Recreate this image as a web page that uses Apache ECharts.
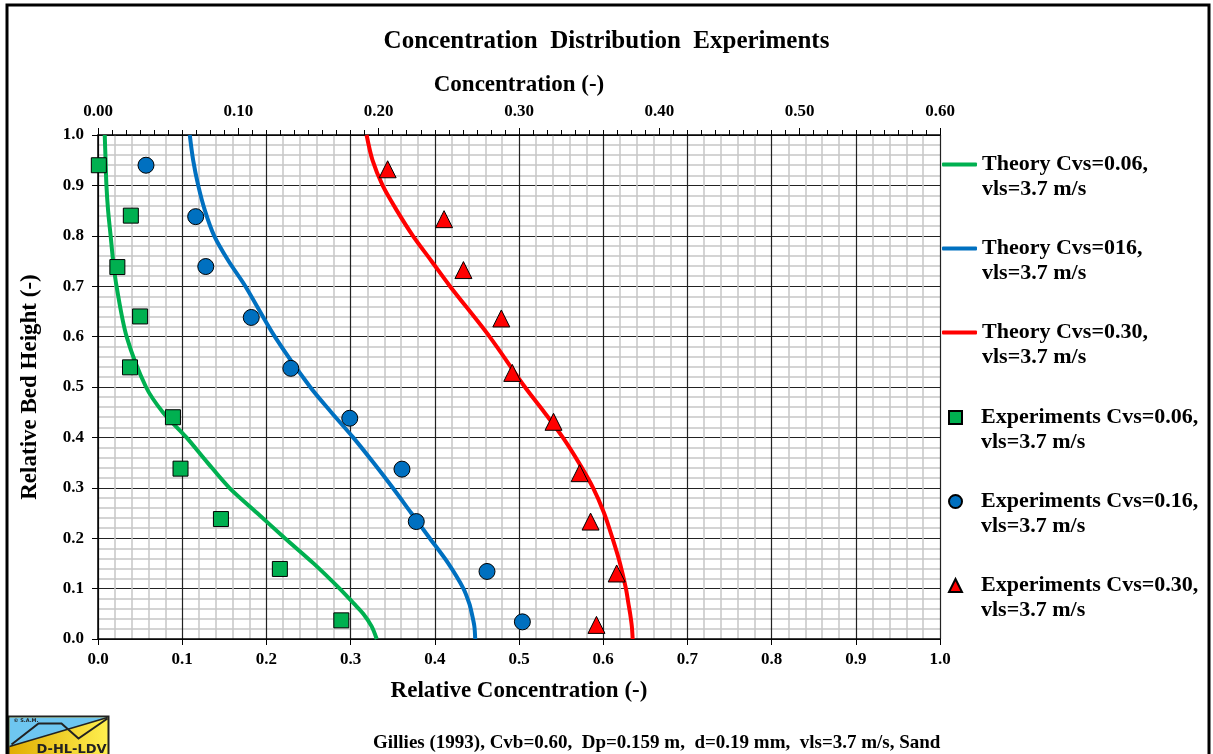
<!DOCTYPE html>
<html>
<head>
<meta charset="utf-8">
<script src="https://cdn.jsdelivr.net/npm/echarts@6/dist/echarts.min.js"></script>
<style>
  html, body { margin: 0; padding: 0; background: #fff; }
  #chart { width: 1213px; height: 754px; }
</style>
</head>
<body>
<div id="chart"></div>
<script>
// theory curves: relative concentration at each relative bed height
const theoryHeights = [1.0, 0.95, 0.9, 0.85, 0.8, 0.75, 0.7, 0.6, 0.5, 0.45, 0.4, 0.35, 0.3, 0.25, 0.2, 0.15, 0.1, 0.07, 0.05, 0.025, 0.0];
const theory006 = [0.008, 0.009, 0.010, 0.012, 0.015, 0.018, 0.022, 0.034, 0.057, 0.077, 0.105, 0.130, 0.156, 0.189, 0.222, 0.256, 0.287, 0.304, 0.315, 0.325, 0.331];
const theory016 = [0.109, 0.113, 0.119, 0.127, 0.138, 0.155, 0.175, 0.210, 0.252, 0.277, 0.303, 0.327, 0.350, 0.372, 0.394, 0.416, 0.434, 0.441, 0.444, 0.447, 0.448];
const theory030 = [0.319, 0.326, 0.338, 0.355, 0.374, 0.396, 0.418, 0.465, 0.507, 0.530, 0.552, 0.571, 0.588, 0.601, 0.611, 0.620, 0.627, 0.630, 0.632, 0.634, 0.635];

// experiments
const exp006X = [0.001, 0.039, 0.023, 0.050, 0.038, 0.089, 0.098, 0.146, 0.216, 0.289];
const exp006Y = [0.940, 0.840, 0.738, 0.640, 0.539, 0.440, 0.338, 0.238, 0.139, 0.037];
const exp016X = [0.057, 0.116, 0.128, 0.182, 0.229, 0.299, 0.361, 0.378, 0.462, 0.504];
const exp016Y = [0.940, 0.838, 0.739, 0.638, 0.537, 0.438, 0.337, 0.233, 0.134, 0.034];
const exp030X = [0.344, 0.411, 0.434, 0.479, 0.492, 0.541, 0.572, 0.585, 0.616, 0.592];
const exp030Y = [0.932, 0.833, 0.732, 0.636, 0.528, 0.431, 0.329, 0.233, 0.130, 0.028];

const seriesNames = [
  'Theory Cvs=0.06,\nvls=3.7 m/s',
  'Theory Cvs=016,\nvls=3.7 m/s',
  'Theory Cvs=0.30,\nvls=3.7 m/s',
  'Experiments Cvs=0.06,\nvls=3.7 m/s',
  'Experiments Cvs=0.16,\nvls=3.7 m/s',
  'Experiments Cvs=0.30,\nvls=3.7 m/s'
];

const font = 'Liberation Serif';
const pair = (xs, ys) => xs.map((x, i) => [x, ys[i]]);
const legendText = {
  fontFamily: font, fontWeight: 'bold', fontSize: 22, color: '#000', lineHeight: 25
};
// empty first line so the icon sits beside the first text line
const legendFormatter = name => '\n' + name;

const chart = echarts.init(document.getElementById('chart'));

function theoryLine(name, xs, color) {
  return {
    name: name,
    type: 'line',
    data: pair(xs, theoryHeights),
    symbol: 'none',
    smooth: 0.3,
    lineStyle: { color: color, width: 4 },
    itemStyle: { color: color },
    z: 3
  };
}
function expPoints(name, xs, ys, symbol, size, color) {
  return {
    name: name,
    type: 'scatter',
    data: pair(xs, ys),
    symbol: symbol,
    symbolSize: size,
    itemStyle: { color: color, borderColor: '#000', borderWidth: 1, opacity: 1 },
    z: 5
  };
}

chart.setOption({
  animation: false,
  backgroundColor: '#fff',
  title: [{
    text: 'Concentration  Distribution  Experiments',
    left: 'center',
    top: 24,
    textStyle: { fontFamily: font, fontWeight: 'bold', fontSize: 25, color: '#000' }
  }, {
    text: 'Gillies (1993), Cvb=0.60,  Dp=0.159 m,  d=0.19 mm,  vls=3.7 m/s, Sand',
    left: 368,
    top: 729,
    textStyle: { fontFamily: font, fontWeight: 'bold', fontSize: 19, color: '#000' }
  }],
  grid: { left: 98, top: 135, right: 273, bottom: 115, containLabel: false },
  legend: [{
    orient: 'vertical',
    left: 942,
    top: 127,
    padding: 0,
    itemGap: 9,
    itemWidth: 35,
    itemHeight: 4,
    icon: 'roundRect',
    formatter: legendFormatter,
    data: seriesNames.slice(0, 3),
    textStyle: legendText
  }, {
    orient: 'vertical',
    left: 948,
    top: 380,
    padding: 0,
    itemGap: 9,
    itemWidth: 13,
    itemHeight: 13,
    formatter: legendFormatter,
    data: seriesNames.slice(3),
    textStyle: Object.assign({}, legendText, { padding: [0, 0, 0, 14] })
  }],
  xAxis: [{
    type: 'value',
    min: 0, max: 1, interval: 0.1,
    name: 'Relative Concentration (-)',
    nameLocation: 'middle',
    nameGap: 41,
    nameTextStyle: { fontFamily: font, fontWeight: 'bold', fontSize: 23, color: '#000' },
    axisLine: { show: true, onZero: false, lineStyle: { color: '#000', width: 1.5 } },
    axisTick: { show: true, length: 6, lineStyle: { color: '#000' } },
    axisLabel: { fontFamily: font, fontWeight: 'bold', fontSize: 17, color: '#000', margin: 12,
      formatter: v => v.toFixed(1) },
    splitLine: { show: true, lineStyle: { color: '#222', width: 1.2 } },
    minorTick: { show: false, splitNumber: 5 },
    minorSplitLine: { show: true, lineStyle: { color: '#c6c6c6', width: 1.5 } }
  }, {
    type: 'value',
    position: 'top',
    min: 0, max: 0.6, interval: 0.1,
    name: 'Concentration (-)',
    nameLocation: 'middle',
    nameGap: 38,
    nameTextStyle: { fontFamily: font, fontWeight: 'bold', fontSize: 23, color: '#000' },
    axisLine: { show: true, onZero: false, lineStyle: { color: '#000', width: 1.5 } },
    axisTick: { show: true, length: 7, lineStyle: { color: '#000' } },
    minorTick: { show: true, splitNumber: 10, length: 5, lineStyle: { color: '#000' } },
    axisLabel: { fontFamily: font, fontWeight: 'bold', fontSize: 17, color: '#000', margin: 15,
      formatter: v => v.toFixed(2) },
    splitLine: { show: false }
  }],
  yAxis: {
    type: 'value',
    min: 0, max: 1, interval: 0.1,
    name: 'Relative Bed Height (-)',
    nameLocation: 'middle',
    nameGap: 56,
    nameTextStyle: { fontFamily: font, fontWeight: 'bold', fontSize: 23, color: '#000' },
    axisLine: { show: true, onZero: false, lineStyle: { color: '#000', width: 1.5 } },
    axisTick: { show: true, length: 6, lineStyle: { color: '#000' } },
    axisLabel: { fontFamily: font, fontWeight: 'bold', fontSize: 17, color: '#000', margin: 14,
      formatter: v => v.toFixed(1) },
    splitLine: { show: true, lineStyle: { color: '#222', width: 1.2 } },
    minorTick: { show: false, splitNumber: 5 },
    minorSplitLine: { show: true, lineStyle: { color: '#c6c6c6', width: 1.5 } }
  },
  series: [
    theoryLine(seriesNames[0], theory006, '#00b050'),
    theoryLine(seriesNames[1], theory016, '#0070c0'),
    theoryLine(seriesNames[2], theory030, '#ff0000'),
    expPoints(seriesNames[3], exp006X, exp006Y, 'rect', 15, '#00b050'),
    expPoints(seriesNames[4], exp016X, exp016Y, 'circle', 16, '#0070c0'),
    expPoints(seriesNames[5], exp030X, exp030Y, 'triangle', 17, '#ff0000')
  ],
  graphic: [
    // outer frame
    { type: 'rect', shape: { x: 7, y: 5, width: 1202, height: 760 }, z: 100,
      style: { fill: 'none', stroke: '#000', lineWidth: 3 } },
    // logo
    { type: 'group', left: 7, top: 715, z: 101, children: [
      { type: 'rect', shape: { x: 0, y: 0, width: 100, height: 45 },
        style: { fill: new echarts.graphic.LinearGradient(0, 0, 1, 0, [
          { offset: 0, color: '#e0ac00' }, { offset: 1, color: '#fff050' }]),
          stroke: '#222', lineWidth: 2 } },
      { type: 'polygon', shape: { points: [[1, 1], [99, 1], [1, 30]] },
        style: { fill: '#6ec6f0' } },
      { type: 'polyline', shape: { points: [[1, 30], [99, 1]] },
        style: { stroke: '#222', lineWidth: 1.5, fill: 'none' } },
      { type: 'polyline', shape: { points: [[3, 28], [30, 7], [53, 7], [70, 22], [99, 2]] },
        style: { stroke: '#222', lineWidth: 2, fill: 'none' } },
      { type: 'text', x: 5, y: 2, style: { text: '© S.A.M.', fontSize: 5, fontWeight: 'bold', fill: '#222', fontFamily: 'DejaVu Sans' } },
      { type: 'text', x: 28, y: 27, style: { text: 'D-HL-LDV', fontSize: 13, fontWeight: 'bold', fill: '#222', fontFamily: 'DejaVu Sans' } }
    ] }
  ]
});
</script>
</body>
</html>
